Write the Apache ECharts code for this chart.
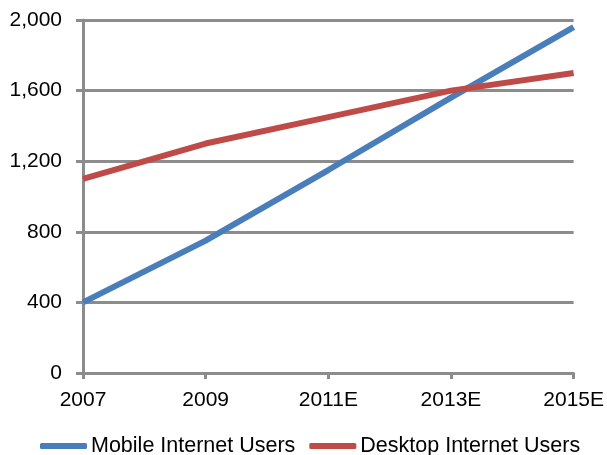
<!DOCTYPE html>
<html>
<head>
<meta charset="utf-8">
<script src="https://cdn.jsdelivr.net/npm/echarts@6/dist/echarts.min.js"></script>
<style>
  html, body { margin: 0; padding: 0; background: #fff; }
  #chart { width: 607px; height: 455px; }
</style>
</head>
<body>
<div id="chart"></div>
<script>
// Internet users (millions), actuals and estimates
const years = ['2007', '2009', '2011E', '2013E', '2015E'];
const mobileUsers = [400, 750, 1150, 1560, 1960];
const desktopUsers = [1100, 1300, 1450, 1600, 1700];
const seriesNames = ['Mobile Internet Users', 'Desktop Internet Users'];

const FONT = 'Liberation Sans, Arial, sans-serif';
const GREY = '#8c8c8c';

const chart = echarts.init(document.getElementById('chart'), null, { renderer: 'canvas' });
chart.setOption({
  animation: false,
  color: ['#4a7ebb', '#be4b48'],
  grid: { left: 83, right: 31, top: 20, bottom: 82, containLabel: false },
  legend: {
    bottom: -7,
    left: 35,
    icon: 'roundRect',
    itemWidth: 47,
    itemHeight: 6,
    itemGap: 14,
    textStyle: { fontFamily: FONT, fontSize: 21.5, color: '#000', padding: [0, 0, 0, -1] },
    data: seriesNames
  },
  xAxis: {
    type: 'category',
    data: years,
    boundaryGap: false,
    axisLine: { lineStyle: { color: GREY, width: 3 } },
    axisTick: { show: true, length: 6, lineStyle: { color: GREY, width: 3 } },
    axisLabel: { fontFamily: FONT, fontSize: 21, color: '#000', margin: 17 }
  },
  yAxis: {
    type: 'value',
    min: 0,
    max: 2000,
    interval: 400,
    axisLine: { show: true, lineStyle: { color: GREY, width: 3 } },
    axisTick: { show: true, length: 7, lineStyle: { color: GREY, width: 3 } },
    axisLabel: {
      fontFamily: FONT, fontSize: 21, color: '#000', margin: 21,
      padding: [4, 0, 0, 0],
      formatter: v => v.toLocaleString('en-US')
    },
    splitLine: { show: true, lineStyle: { color: GREY, width: 3 } }
  },
  series: [
    {
      name: seriesNames[0],
      type: 'line',
      data: mobileUsers,
      symbol: 'none',
      lineStyle: { width: 6 }
    },
    {
      name: seriesNames[1],
      type: 'line',
      data: desktopUsers,
      symbol: 'none',
      lineStyle: { width: 6 }
    }
  ]
});
</script>
</body>
</html>
